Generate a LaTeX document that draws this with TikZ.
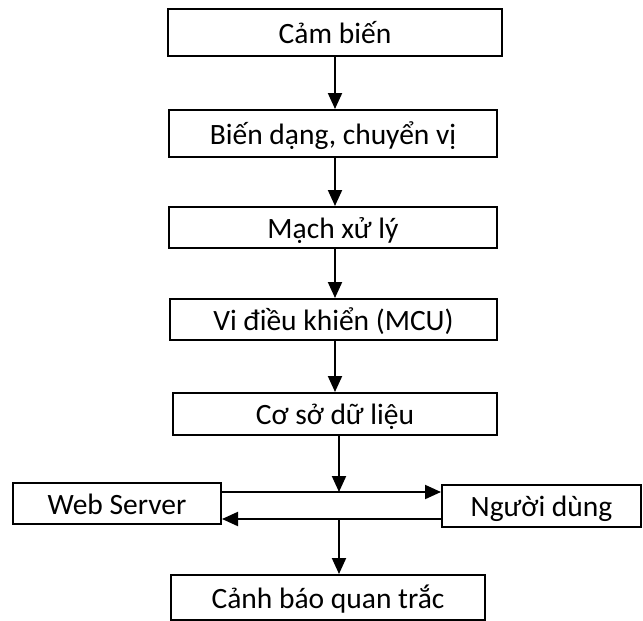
\documentclass[tikz,border=0pt]{standalone}
\usepackage{fontspec}
\setmainfont{Carlito}
\usetikzlibrary{arrows.meta}
\tikzset{
  box/.style={draw, line width=2pt, inner sep=0pt, align=center,
    font=\fontsize{29.5}{32}\selectfont, text height=27.5pt, text depth=5.8pt},
  arr/.style={line width=2pt, -{Triangle[length=16pt,width=14pt]}}
}
\begin{document}
\begin{tikzpicture}[x=1pt,y=-1pt]
\useasboundingbox (0,0) rectangle (643,621);
\node[box, minimum width=334pt, minimum height=47pt] (s1) at (335,32.5) {Cảm biến};
\node[box, minimum width=328pt, minimum height=47pt] (s2) at (333,133.5) {Biến dạng, chuyển vị};
\node[box, minimum width=328pt, minimum height=41pt] (s3) at (333,227.5) {Mạch xử lý};
\node[box, minimum width=327pt, minimum height=41pt] (s4) at (333.5,319.5) {Vi điều khiển (MCU)};
\node[box, minimum width=324pt, minimum height=42pt] (s5) at (335,414) {Cơ sở dữ liệu};
\node[box, minimum width=208pt, minimum height=41pt] (ws) at (117,503.5) {Web Server};
\node[box, minimum width=199pt, minimum height=42pt] (nd) at (541.5,506) {Người dùng};
\node[box, minimum width=314pt, minimum height=45pt] (cb) at (328,597.5) {Cảnh báo quan trắc};
\coordinate (j1) at (339,492);
\coordinate (j2) at (339,519);
\draw[arr] (335,56) coordinate (a1) -- (a1 |- s2.north);
\draw[arr] (s2.south -| a1) -- (a1 |- s3.north);
\draw[arr] (s3.south -| a1) -- (a1 |- s4.north);
\draw[arr] (s4.south -| a1) -- (a1 |- s5.north);
\draw[arr] (j1 |- s5.south) -- (j1);
\draw[arr] (ws.east |- j1) -- (nd.west |- j1);
\draw[arr] (nd.west |- j2) -- (ws.east |- j2);
\draw[arr] (j2) -- (j2 |- cb.north);
\end{tikzpicture}
\end{document}
